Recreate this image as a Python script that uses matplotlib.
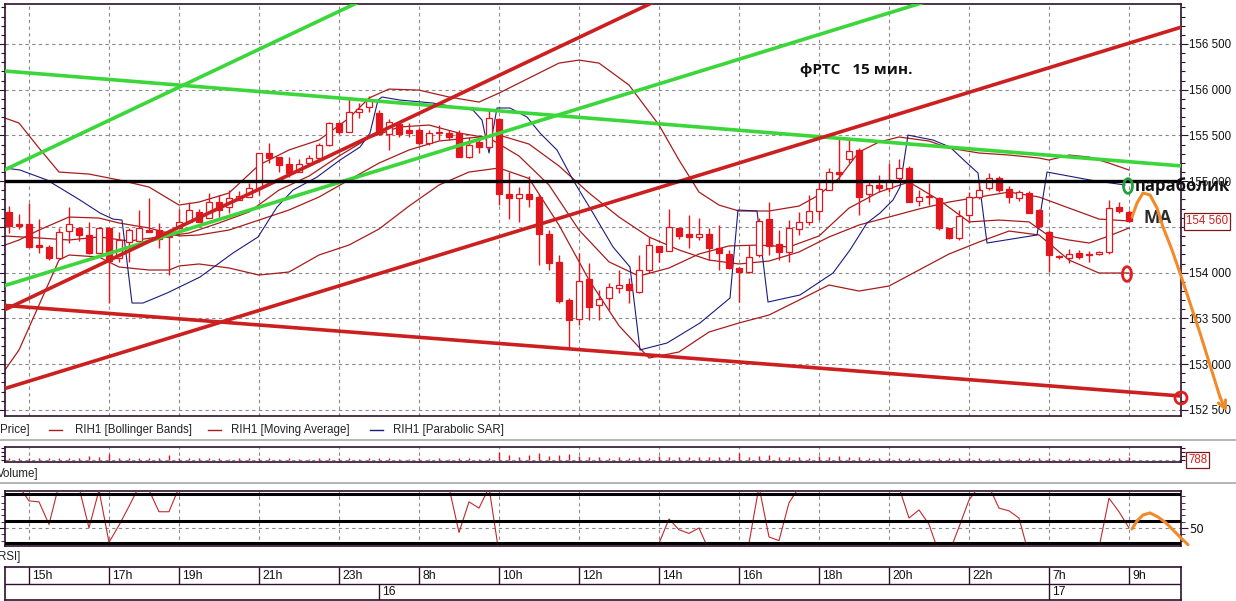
import matplotlib
matplotlib.use("Agg")
import matplotlib.pyplot as plt
from matplotlib.patches import Rectangle, Ellipse
from matplotlib.lines import Line2D
from matplotlib import font_manager
import matplotlib.ticker as mticker
import matplotlib.transforms as mtransforms

# ---------------------------------------------------------------- data
opens = [154660, 154530, 154530, 154300, 154280, 154160, 154455, 154490, 154410, 154215,
         154490, 154160, 154335, 154345, 154460, 154465, 154390, 154490, 154555, 154665,
         154595, 154770, 154715, 154795, 154825, 154925, 155310, 155265, 155185, 155100,
         155200, 155255, 155395, 155635, 155535, 155755, 155810, 155745, 155515, 155625,
         155560, 155560, 155415, 155525, 155525, 155525, 155265, 155430, 155375, 155680,
         154860, 154815, 154860, 154825, 154420, 154120, 153700, 153495, 153930, 153645,
         153725, 153830, 153875, 153790, 154030, 154290, 154235, 154490, 154420, 154390,
         154420, 154270, 154205, 154050, 154005, 154195, 154585, 154315, 154225, 154475,
         154555, 154675, 154905, 155100, 155240, 155340, 154860, 154960, 154925, 155035,
         155145, 154785, 154835, 154815, 154490, 154380, 154630, 154825, 154925, 155035,
         154915, 154815, 154870, 154685, 154445, 154180, 154160, 154215, 154200, 154205,
         154225, 154715, 154665]
highs = [154730, 154640, 154760, 154590, 154300, 154490, 154720, 154500, 154555, 154500,
         154500, 154445, 154490, 154685, 154815, 154545, 154435, 154695, 154770, 154695,
         154870, 154850, 154905, 154890, 154980, 155310, 155415, 155265, 155265, 155240,
         155285, 155415, 155645, 155645, 155910, 155855, 155930, 155775, 155680, 155645,
         155635, 155580, 155560, 155615, 155560, 155560, 155485, 155485, 155775, 155690,
         155100, 154935, 155055, 154860, 154465, 154195, 153725, 154215, 154105, 153810,
         153885, 154030, 153940, 154195, 154390, 154290, 154695, 154490, 154630, 154595,
         154490, 154520, 154250, 154060, 154300, 154595, 154770, 154465, 154575, 154665,
         154850, 154990, 155145, 155485, 155470, 155360, 155015, 155065, 155200, 155240,
         155165, 154905, 154980, 154830, 154490, 154685, 154880, 155015, 155090, 155055,
         154950, 154905, 154890, 154700, 154465, 154190, 154260, 154250, 154240, 154235,
         154795, 154770, 154680]
lows = [154430, 154480, 154280, 154210, 154140, 154160, 154325, 154345, 154200, 154210,
        153670, 154120, 154120, 154345, 154445, 154270, 153975, 154490, 154555, 154555,
        154595, 154610, 154650, 154795, 154825, 154850, 155200, 155100, 155045, 155100,
        155200, 155210, 155380, 155515, 155535, 155690, 155755, 155505, 155340, 155485,
        155485, 155395, 155395, 155450, 155450, 155265, 155255, 155310, 155350, 154740,
        154585, 154555, 154715, 154085, 154030, 153670, 153175, 153425, 153480, 153480,
        153590, 153775, 153670, 153775, 153995, 154120, 154235, 154370, 154270, 154355,
        154140, 154030, 154040, 153680, 153995, 154170, 154195, 154140, 154120, 154410,
        154520, 154575, 154905, 155015, 155200, 154630, 154770, 154880, 154880, 155015,
        154770, 154730, 154740, 154465, 154370, 154355, 154545, 154800, 154900, 154880,
        154760, 154780, 154650, 154490, 154005, 154150, 154105, 154150, 154120, 154190,
        154200, 154650, 154555]
closes = [154510, 154515, 154280, 154285, 154160, 154440, 154530, 154410, 154215, 154490,
          154130, 154355, 154465, 154490, 154448, 154370, 154400, 154555, 154685, 154555,
          154770, 154685, 154815, 154840, 154925, 155310, 155255, 155175, 155090, 155185,
          155255, 155395, 155635, 155535, 155755, 155790, 155885, 155515, 155645, 155515,
          155525, 155415, 155525, 155535, 155485, 155265, 155395, 155375, 155690, 154860,
          154815, 154860, 154805, 154420, 154105, 153690, 153480, 153910, 153625, 153710,
          153845, 153865, 153810, 154030, 154300, 154225, 154500, 154400, 154390, 154420,
          154270, 154215, 154050, 154005, 154170, 154565, 154290, 154225, 154490, 154555,
          154675, 154915, 155100, 155080, 155330, 154825, 154960, 154925, 155015, 155145,
          154770, 154825, 154825, 154490, 154380, 154620, 154825, 154905, 155035, 154905,
          154825, 154880, 154650, 154510, 154195, 154170, 154205, 154170, 154190, 154225,
          154705, 154675, 154560]

volumes = [500, 450, 600, 450, 500, 500, 650, 450, 1300, 1000,
           1800, 700, 650, 550, 600, 700, 1500, 600, 500, 550,
           450, 500, 400, 450, 500, 600, 450, 400, 450, 400,
           400, 450, 500, 450, 500, 400, 450, 500, 450, 400,
           400, 450, 400, 450, 400, 500, 450, 400, 600, 2200,
           1400, 900, 1600, 1900, 1300, 1500, 1800, 1200, 1000, 900,
           700, 800, 700, 800, 600, 1200, 800, 1000, 800, 900,
           800, 1000, 800, 1900, 900, 1200, 1400, 900, 1000, 800,
           700, 1200, 1000, 1300, 800, 1000, 700, 500, 450, 500,
           600, 450, 400, 500, 450, 450, 500, 450, 400, 450,
           400, 450, 500, 450, 500, 400, 450, 400, 450, 400,
           700, 600, 788]

rsi = [97, 96, 80, 79, 54, 98, 97, 95, 50, 92,
       34, 53, 74, 96, 92, 68, 68, 95, 95, 95,
       95, 95, 95, 95, 95, 95, 95, 95, 95, 95,
       95, 95, 95, 95, 95, 95, 95, 95, 95, 95,
       95, 95, 95, 95, 95, 45, 79, 72, 95, 22,
       20, 20, 20, 20, 20, 20, 20, 20, 20, 20,
       20, 20, 20, 20, 20, 33, 60, 48, 44, 50,
       25, 20, 20, 20, 33, 96, 40, 36, 78, 95,
       95, 95, 95, 95, 95, 95, 95, 95, 95, 95,
       61, 70, 54, 22, 22, 51, 81, 96, 96, 72,
       69, 61, 20, 20, 20, 20, 20, 20, 20, 28,
       83, 68, 50]
rsi_levels = [87.5, 58, 33]

# Bollinger Bands
bb_up_x = [-0.4, 1, 3, 5, 8, 11, 14, 17, 19, 22, 25, 28, 31, 34, 36, 38, 41, 44, 47, 49,
           52, 55, 57, 59, 62, 65, 67, 69, 71, 73, 76, 79, 81, 83, 85, 87, 89, 92, 94, 97,
           100, 103, 104, 106, 108, 110, 112]
bb_up = [155690, 155636, 155362, 155100, 155078, 155013, 154936, 154739, 154772, 154871,
         155177, 155341, 155450, 155690, 155909, 156007, 155996, 155920, 155865, 155963,
         156127, 156291, 156324, 156291, 156051, 155614, 155231, 154881, 154739, 154674,
         154674, 154728, 154849, 155034, 155319, 155428, 155483, 155439, 155362, 155308,
         155286, 155253, 155231, 155286, 155264, 155198, 155122]
bb_mid_x = [-0.4, 1, 3, 6, 9, 11, 14, 17, 19, 22, 25, 28, 31, 34, 37, 40, 43, 46, 49, 52,
            55, 58, 61, 64, 67, 70, 73, 76, 79, 82, 85, 88, 91, 94, 97, 100, 103, 106, 109, 112]
bb_mid = [154302, 154357, 154466, 154608, 154597, 154543, 154488, 154401, 154412, 154466,
          154575, 154685, 154827, 155013, 155198, 155341, 155439, 155472, 155504, 155406,
          155166, 154871, 154608, 154390, 154248, 154138, 154095, 154127, 154226, 154390,
          154521, 154608, 154696, 154772, 154827, 154881, 154827, 154706, 154586, 154565]
bb_low_x = [-0.4, 1, 3, 5, 6, 9, 11, 14, 16, 17, 19, 22, 25, 28, 31, 34, 37, 40, 43, 46,
            49, 52, 55, 58, 61, 64, 67, 70, 73, 76, 79, 82, 85, 88, 91, 94, 97, 100, 103, 106,
            109, 112]
bb_low = [152936, 153155, 153646, 154138, 154193, 154171, 154062, 154029, 154029, 154073,
          154095, 154051, 153974, 154007, 154193, 154302, 154477, 154728, 154958, 155100,
          155144, 155030, 154520, 153920, 153420, 153067, 153133, 153351, 153450, 153537,
          153700, 153865, 153799, 153854, 154029, 154204, 154335, 154455, 154412, 154138,
          153996, 153996]

# Moving Average
ma_x = [-0.4, 3, 6, 9, 12, 15, 18, 21, 24, 27, 30, 33, 36, 39, 42, 45, 48, 51, 54, 57,
        60, 63, 66, 69, 72, 75, 78, 81, 84, 87, 90, 93, 96, 99, 102, 104, 106, 108, 110, 112]
ma_vals = [154401, 154379, 154357, 154390, 154346, 154390, 154433, 154543, 154663, 154903,
           155056, 155275, 155472, 155592, 155614, 155526, 155472, 155275, 154958, 154466,
           154118, 153963, 154051, 154204, 154292, 154302, 154281, 154401, 154706, 154881,
           154991, 154794, 154555, 154575, 154555, 154401, 154357, 154324, 154401, 154488]

# Parabolic SAR
sar_x = [-0.4, 1.1, 3.8, 7.1, 9.1, 10.4, 11.3, 12.3, 13.4, 15.8, 19.1, 22.4, 24.9, 26.8,
         28.4, 30.8, 33.1, 35.1, 36.1, 36.9, 37.3, 39.1, 42.4, 46.4, 47.3, 48.0, 48.8, 50.1,
         51.8, 53.1, 54.8, 56.4, 58.4, 60.4, 62.1, 63.1, 65.8, 69.1, 72.1, 72.9, 74.8, 75.9,
         79.1, 82.4, 84.1, 85.8, 87.1, 88.4, 89.1, 89.9, 92.4, 94.1, 95.8, 96.9, 97.8, 102.8,
         103.8, 108.1, 111.6]
sar_vals = [155144, 155122, 155013, 154794, 154652, 154586, 154575, 153668, 153668, 153777,
            153952, 154215, 154390, 154717, 154903, 155045, 155231, 155373, 155526, 155887,
            155920, 155887, 155854, 155777, 155668, 155308, 155800, 155800, 155701, 155526,
            155341, 155013, 154652, 154281, 154062, 153155, 153231, 153450, 153723, 154685,
            154674, 153679, 153756, 153996, 154248, 154543, 154652, 154794, 154936, 155504,
            155450, 155373, 155198, 155089, 154324, 154412, 155100, 155013, 154958]

# trend lines drawn by the analyst (bar index, price)
green_x = [(-0.9, 35.0), (-0.4, 118.0), (-0.9, 91.6)]
green_y = [(155100, 156960), (156204, 155160), (153843, 156960)]
red_x = [(-0.9, 64.5), (-0.9, 118.0), (-0.9, 118.0)]
red_y = [(153570, 156960), (152717, 156710), (153646, 152645)]
level_price = 155000

hour_pos = [2, 10, 17, 25, 33, 41, 49, 57, 65, 73, 81, 88, 96, 104, 112]
hour_labels = ["15h", "17h", "19h", "21h", "23h", "8h", "10h", "12h", "14h", "16h",
               "18h", "20h", "22h", "7h", "9h"]
day_pos = [37, 104]
day_labels = ["16", "17"]

last_price = 154560
last_volume = 788

# analyst's hand-drawn forecast (bar index, price / rsi)
fc_x = [112.3, 112.8, 113.4, 114.1, 114.8, 115.4, 116.3, 117.1, 118.1, 119.1, 120.1, 121.1]
fc_y = [154608, 154761, 154871, 154849, 154706, 154499, 154248, 153996, 153668, 153340,
        152990, 152641]
fc_tip = (121.75, 152480)
fcr_x = [112.3, 112.8, 113.4, 114.1, 114.9, 115.7, 116.5, 117.3, 117.9]
fcr_y = [48.9, 57.8, 64.4, 66.7, 62.2, 55.6, 46.7, 37.8, 31.5]

# ---------------------------------------------------------------- style
names = {f.name for f in font_manager.fontManager.ttflist}
NARROW = "Liberation Sans Narrow" if "Liberation Sans Narrow" in names else "Liberation Sans"
BOLD = ["Open Sans", "DejaVu Sans"]

CANDLE = "#e3161d"
BAND = "#a81c1c"
SAR = "#1b1b80"
GREEN = "#3ad63a"
TRED = "#cc1f1f"
FRAME = "#2e102e"
GRID = "#8a8a8a"
ORANGE = "#f28a2a"

W, H = 1236, 601
fig = plt.figure(figsize=(W / 100, H / 100), dpi=100)
fig.patch.set_facecolor("white")


def fxp(px):
    return px / W


def fyp(py):
    return 1 - py / H


def rect(x0, y0, x1, y1):
    return [fxp(x0), fyp(y1), fxp(x1) - fxp(x0), fyp(y0) - fyp(y1)]


ax = fig.add_axes(rect(5, 4, 1181, 416))
axv = fig.add_axes(rect(5, 447, 1181, 462), sharex=ax)
axr = fig.add_axes(rect(5, 491, 1181, 546), sharex=ax)
axt = fig.add_axes(rect(5, 567, 1181, 600), sharex=ax)

XMIN, XMAX = -0.4, 117.2
ax.set_xlim(XMIN, XMAX)
ax.set_ylim(152433, 156937)

for a in (ax, axv, axr, axt):
    for s in a.spines.values():
        s.set_color(FRAME)
        s.set_linewidth(1.2)
    a.set_facecolor("white")

# grid
for a in (ax, axv, axr):
    for p in hour_pos:
        a.axvline(p, color=GRID, lw=0.8, ls=(0, (3, 3)), zorder=0)
for lv in range(152500, 157000, 500):
    ax.axhline(lv, color=GRID, lw=0.8, ls=(0, (3, 3)), zorder=0)

# bands, MA, SAR
ax.plot(bb_up_x, bb_up, color=BAND, lw=0.9, zorder=2)
ax.plot(bb_mid_x, bb_mid, color=BAND, lw=0.9, zorder=2)
ax.plot(bb_low_x, bb_low, color=BAND, lw=0.9, zorder=2)
ax.plot(ma_x, ma_vals, color=BAND, lw=0.9, zorder=2)
ax.plot(sar_x, sar_vals, color=SAR, lw=0.8, zorder=2)

# candles
bw = 0.66
for i, (o, h, l, c) in enumerate(zip(opens, highs, lows, closes)):
    ax.vlines(i, l, h, color=CANDLE, lw=1.0, zorder=3)
    bottom = min(o, c)
    height = max(abs(c - o), 14)
    face = "white" if c > o else CANDLE
    ax.add_patch(Rectangle((i - bw / 2, bottom), bw, height, facecolor=face,
                           edgecolor=CANDLE, lw=0.9, zorder=4))

# trend lines
for xs, ys in zip(green_x, green_y):
    ax.plot(xs, ys, color=GREEN, lw=2.6, zorder=5, solid_capstyle="butt")
for xs, ys in zip(red_x, red_y):
    ax.plot(xs, ys, color=TRED, lw=2.6, zorder=5, solid_capstyle="butt")
ax.axhline(level_price, color="black", lw=2.4, zorder=5)

# y axis
fmt = mticker.FuncFormatter(lambda v, p: f"{int(round(v)):,}".replace(",", " "))
ax.yaxis.set_major_locator(mticker.MultipleLocator(500))
ax.yaxis.set_minor_locator(mticker.MultipleLocator(100))
ax.yaxis.set_major_formatter(fmt)
ax.tick_params(axis="y", which="both", left=True, right=True, labelleft=False,
               labelright=True, direction="out", colors=FRAME, labelcolor="#111111",
               labelsize=8.3)
ax.tick_params(axis="y", which="major", length=5, width=0.8, pad=1)
ax.tick_params(axis="y", which="minor", length=3, width=0.8)
for lab in ax.get_yticklabels():
    lab.set_fontfamily(NARROW)
ax.tick_params(axis="x", which="both", bottom=False, labelbottom=False)

trans = mtransforms.blended_transform_factory(ax.transAxes, ax.transData)
ax.text(1 + 5 / 1176, last_price, "154 560", transform=trans, ha="left", va="center",
        color="#d42020", fontsize=8.3, family=NARROW, zorder=10, clip_on=False,
        bbox=dict(boxstyle="square,pad=0.18", facecolor="white", edgecolor="#7a1a1a", lw=0.9))

# annotations on the price chart
ax.text(79.1, 156215, "фРТС   15 мин.", fontsize=11, fontweight="bold", family=BOLD,
        ha="left", va="center", color="#111111", zorder=8)
ax.text(112.6, 154947, "параболик", fontsize=12, fontweight="bold", family=BOLD,
        ha="left", va="center", color="#111111", zorder=8, clip_on=False)
ax.text(113.5, 154600, "МА", fontsize=12.5, fontweight="bold", family=BOLD,
        ha="left", va="center", color="#2b2b2b", zorder=8, clip_on=False)
ax.add_patch(Ellipse((111.9, 154947), 0.9, 160, fill=False, edgecolor="#1fa03a",
                     lw=2, zorder=9, clip_on=False))
ax.add_patch(Ellipse((111.8, 153985), 0.9, 160, fill=False, edgecolor="#e02020",
                     lw=2, zorder=9, clip_on=False))
ax.add_patch(Ellipse((117.2, 152630), 1.2, 130, fill=False, edgecolor="#e02020",
                     lw=2, zorder=9, clip_on=False))
ax.add_line(Line2D(fc_x, fc_y, color=ORANGE, lw=2.2, zorder=9, clip_on=False,
                   solid_capstyle="round"))
ax.annotate("", xy=fc_tip, xytext=(fc_x[-1], fc_y[-1]), annotation_clip=False,
            arrowprops=dict(arrowstyle="->", color=ORANGE, lw=2.2, mutation_scale=14,
                            shrinkA=0, shrinkB=0), zorder=9)

# volume panel
axv.set_ylim(-600, 3800)
axv.axhline(0, color=GRID, lw=0.8, ls=(0, (3, 3)), zorder=0)
axv.vlines(range(len(volumes)), 0, volumes, color=CANDLE, lw=1.0, zorder=3)
axv.set_yticks([0, 1200, 2400, 3600])
axv.tick_params(axis="y", left=True, right=True, labelleft=False, labelright=False,
                direction="out", length=3, colors=FRAME)
axv.tick_params(axis="x", bottom=False, labelbottom=False)
fig.text(fxp(1188), fyp(460), str(last_volume), ha="left", va="center", color="#d42020",
         fontsize=8.3, family=NARROW,
         bbox=dict(boxstyle="square,pad=0.18", facecolor="white", edgecolor="#7a1a1a", lw=0.9))

# RSI panel
axr.set_ylim(30, 91)
axr.axhline(50, color=GRID, lw=0.8, ls=(0, (3, 3)), zorder=0)
for lv in rsi_levels:
    axr.axhline(lv, color="black", lw=2.2, zorder=4)
axr.plot(range(len(rsi)), rsi, color="#c0282d", lw=0.8, zorder=3)
axr.set_yticks([50])
axr.set_yticklabels(["50"])
axr.yaxis.set_minor_locator(mticker.FixedLocator([36, 43, 57, 64, 71, 78, 85]))
axr.tick_params(axis="y", which="both", left=True, right=True, labelleft=False,
                labelright=True, direction="out", colors=FRAME, labelcolor="#111111",
                labelsize=8.5)
axr.tick_params(axis="y", which="major", length=5, pad=1)
axr.tick_params(axis="y", which="minor", length=3)
axr.tick_params(axis="x", bottom=False, labelbottom=False)
axr.add_line(Line2D(fcr_x, fcr_y, color=ORANGE, lw=2.2, zorder=9, clip_on=False,
                    solid_capstyle="round"))

# time axis
axt.set_ylim(0, 2)
axt.axhline(1, color=FRAME, lw=1.0)
axt.vlines(hour_pos, 1, 2, color=FRAME, lw=1.0)
axt.vlines(day_pos, 0, 1, color=FRAME, lw=1.0)
for p, lab in zip(hour_pos, hour_labels):
    axt.text(p + 0.35, 1.47, lab, ha="left", va="center", fontsize=8.8, family=NARROW,
             color="#111111")
for p, lab in zip(day_pos, day_labels):
    axt.text(p + 0.35, 0.47, lab, ha="left", va="center", fontsize=8.8, family=NARROW,
             color="#111111")
axt.tick_params(axis="both", which="both", bottom=False, left=False, labelbottom=False,
                labelleft=False)

# legend row and panel captions
fig.add_artist(Line2D([0, 1], [fyp(440), fyp(440)], color="#a8a8a8", lw=1.2))
fig.add_artist(Line2D([0, 1], [fyp(483), fyp(483)], color="#a8a8a8", lw=1.2))
fs = 8.3
fig.text(fxp(0), fyp(430), "Price]", ha="left", va="center", fontsize=fs, family=NARROW,
         color="#222222")
for x0, x1, tx, col, lab in [(49, 62, 75, BAND, "RIH1 [Bollinger Bands]"),
                             (208, 221, 231, BAND, "RIH1 [Moving Average]"),
                             (370, 383, 393, SAR, "RIH1 [Parabolic SAR]")]:
    fig.add_artist(Line2D([fxp(x0), fxp(x1)], [fyp(430), fyp(430)], color=col, lw=1))
    fig.text(fxp(tx), fyp(430), lab, ha="left", va="center", fontsize=fs, family=NARROW,
             color="#222222")
fig.text(fxp(-3), fyp(474), "Volume]", ha="left", va="center", fontsize=fs, family=NARROW,
         color="#222222")
fig.text(fxp(-2), fyp(557), "RSI]", ha="left", va="center", fontsize=fs, family=NARROW,
         color="#222222")

fig.savefig("out.png", dpi=100, facecolor="white")
